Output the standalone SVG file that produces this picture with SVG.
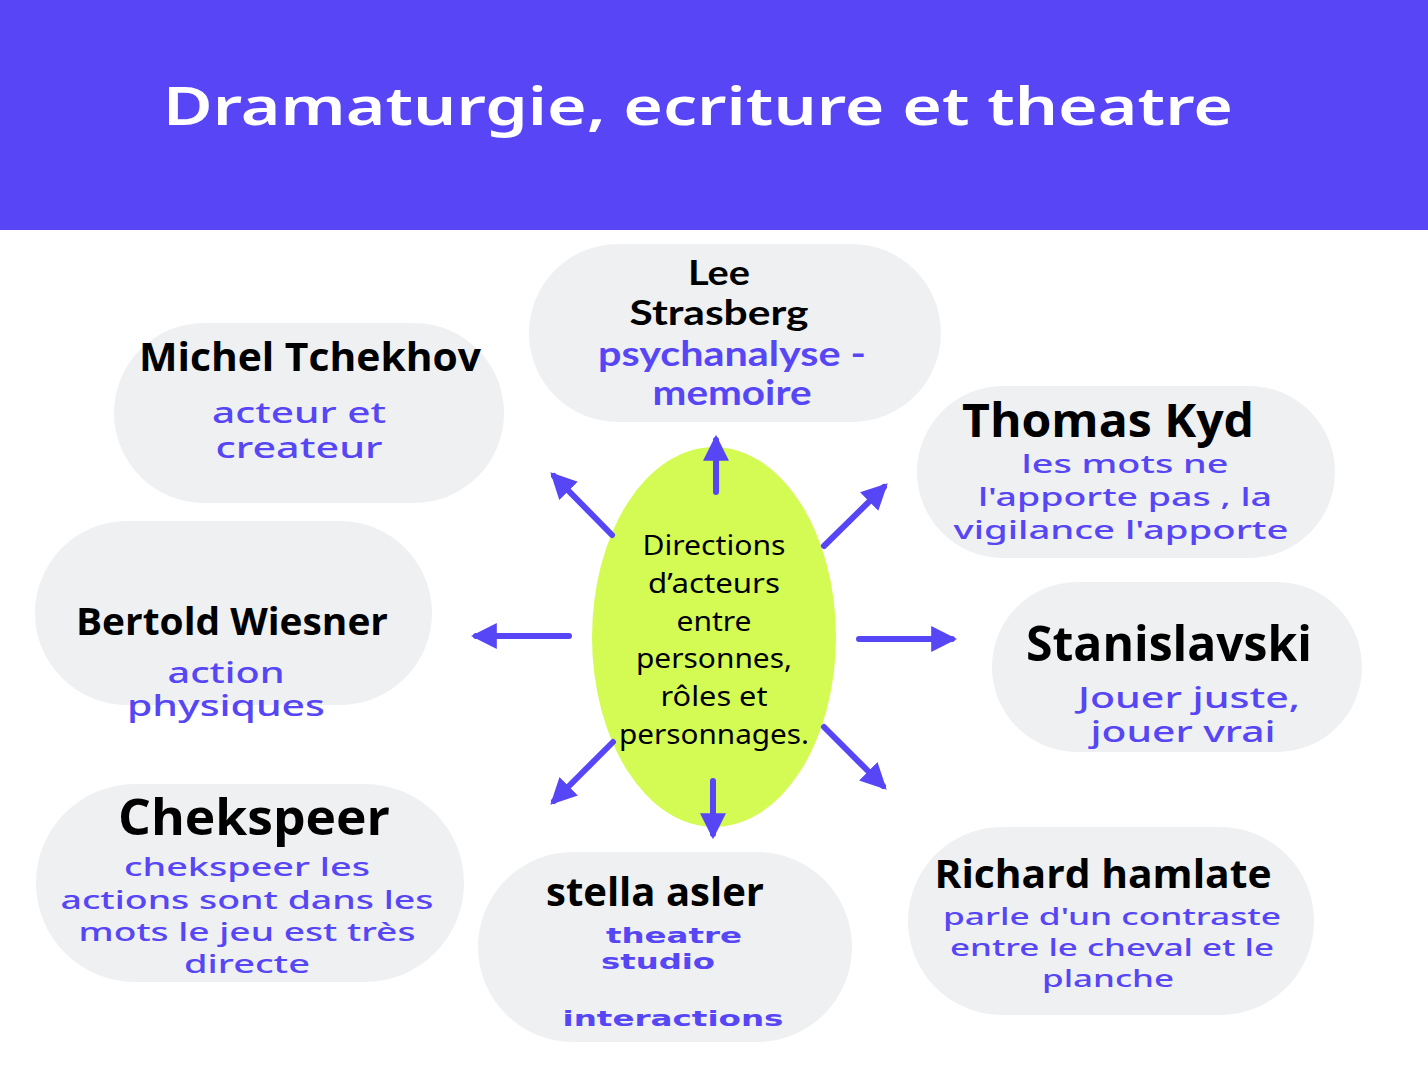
<svg xmlns="http://www.w3.org/2000/svg" width="1428" height="1072" viewBox="0 0 1428 1072">
<style>
.pill{fill:#EFF0F2}
.nm{font-family:"Open Sans","Noto Sans",sans-serif;font-weight:700;fill:#000;text-anchor:middle}
.sub{font-family:"Noto Sans","DejaVu Sans",sans-serif;font-weight:500;fill:#5646F5;text-anchor:middle}
.hv{font-family:"DejaVu Sans","Noto Sans",sans-serif;font-weight:900;fill:#5646F5;text-anchor:middle}
.qs{font-family:"Lato","Noto Sans",sans-serif;font-weight:700;text-anchor:middle}
.ctr{font-family:"Noto Sans","DejaVu Sans",sans-serif;font-weight:400;fill:#000;text-anchor:middle;font-size:28px}
.ar{stroke:#5646F5;stroke-width:6;stroke-linecap:round;fill:none;marker-end:url(#ah)}
</style>
<defs>
<marker id="ah" viewBox="0 0 10 10" refX="8" refY="5" markerWidth="26" markerHeight="26" markerUnits="userSpaceOnUse" orient="auto">
<path d="M0,0 L10,5 L0,10 Z" fill="#5646F5"/>
</marker>
</defs>
<rect width="1428" height="1072" fill="#FFFFFF"/>
<g id="header">
<rect x="0" y="0" width="1428" height="230" fill="#5745F6"/>
<text x="698" y="125" font-family="Noto Sans, DejaVu Sans, sans-serif" font-size="52" font-weight="600" fill="#FFFFFF" text-anchor="middle" textLength="1070" lengthAdjust="spacingAndGlyphs">Dramaturgie, ecriture et theatre</text>
</g>
<g id="center">
<ellipse cx="714" cy="637" rx="122" ry="190" fill="#D4FB54"/>
<text class="ctr" x="714" y="555" textLength="143" lengthAdjust="spacingAndGlyphs">Directions</text>
<text class="ctr" x="714" y="593" textLength="132" lengthAdjust="spacingAndGlyphs">d’acteurs</text>
<text class="ctr" x="714" y="631" textLength="75" lengthAdjust="spacingAndGlyphs">entre</text>
<text class="ctr" x="714" y="668" textLength="156" lengthAdjust="spacingAndGlyphs">personnes,</text>
<text class="ctr" x="714" y="706" textLength="107" lengthAdjust="spacingAndGlyphs">rôles et</text>
<text class="ctr" x="714" y="744" textLength="190" lengthAdjust="spacingAndGlyphs">personnages.</text>
</g>
<g id="lee-strasberg">
<rect class="pill" x="529" y="244" width="412" height="178" rx="89"/>
<text class="qs" x="719" y="285" font-size="34" fill="#000" textLength="62" lengthAdjust="spacingAndGlyphs">Lee</text>
<text class="qs" x="719" y="325" font-size="34" fill="#000" textLength="179" lengthAdjust="spacingAndGlyphs">Strasberg</text>
<text class="qs" x="732" y="366" font-size="34" fill="#5646F5" textLength="268" lengthAdjust="spacingAndGlyphs">psychanalyse -</text>
<text class="qs" x="732" y="405" font-size="34" fill="#5646F5" textLength="159" lengthAdjust="spacingAndGlyphs">memoire</text>
</g>
<g id="michel-tchekhov">
<rect class="pill" x="114" y="323" width="390" height="180" rx="90"/>
<text class="nm" x="310" y="371" font-size="40" textLength="342" lengthAdjust="spacingAndGlyphs">Michel Tchekhov</text>
<text class="sub" x="299" y="423" font-size="28" textLength="174" lengthAdjust="spacingAndGlyphs">acteur et</text>
<text class="sub" x="299" y="458" font-size="28" textLength="167" lengthAdjust="spacingAndGlyphs">createur</text>
</g>
<g id="thomas-kyd">
<rect class="pill" x="917" y="386" width="418" height="172" rx="86"/>
<text class="nm" x="1108" y="437" font-size="46" textLength="292" lengthAdjust="spacingAndGlyphs">Thomas Kyd</text>
<text class="sub" x="1125" y="473" font-size="25" textLength="207" lengthAdjust="spacingAndGlyphs">les mots ne</text>
<text class="sub" x="1125" y="506" font-size="25" textLength="294" lengthAdjust="spacingAndGlyphs">l'apporte pas , la</text>
<text class="sub" x="1121" y="539" font-size="25" textLength="335" lengthAdjust="spacingAndGlyphs">vigilance l'apporte</text>
</g>
<g id="bertold-wiesner">
<rect class="pill" x="35" y="521" width="397" height="184" rx="92"/>
<text class="nm" x="232" y="635" font-size="38" textLength="312" lengthAdjust="spacingAndGlyphs">Bertold Wiesner</text>
<text class="sub" x="226" y="683" font-size="28" textLength="117" lengthAdjust="spacingAndGlyphs">action</text>
<text class="sub" x="226" y="716" font-size="28" textLength="198" lengthAdjust="spacingAndGlyphs">physiques</text>
</g>
<g id="stanislavski">
<rect class="pill" x="992" y="582" width="370" height="170" rx="85"/>
<text class="nm" x="1169" y="661" font-size="48" textLength="286" lengthAdjust="spacingAndGlyphs">Stanislavski</text>
<text class="sub" x="1189" y="708" font-size="28" textLength="222" lengthAdjust="spacingAndGlyphs">Jouer juste,</text>
<text class="sub" x="1183" y="742" font-size="28" textLength="185" lengthAdjust="spacingAndGlyphs">jouer vrai</text>
</g>
<g id="chekspeer">
<rect class="pill" x="36" y="784" width="428" height="198" rx="99"/>
<text class="nm" x="254" y="835" font-size="50" textLength="272" lengthAdjust="spacingAndGlyphs">Chekspeer</text>
<text class="sub" x="247" y="876" font-size="26" textLength="246" lengthAdjust="spacingAndGlyphs">chekspeer les</text>
<text class="sub" x="247" y="909" font-size="26" textLength="373" lengthAdjust="spacingAndGlyphs">actions sont dans les</text>
<text class="sub" x="247" y="941" font-size="26" textLength="337" lengthAdjust="spacingAndGlyphs">mots le jeu est très</text>
<text class="sub" x="247" y="973" font-size="26" textLength="126" lengthAdjust="spacingAndGlyphs">directe</text>
</g>
<g id="stella-asler">
<rect class="pill" x="478" y="852" width="374" height="190" rx="95"/>
<text class="nm" x="655" y="906" font-size="40" font-weight="600" textLength="218" lengthAdjust="spacingAndGlyphs">stella asler</text>
<text class="hv" x="674" y="943" font-size="22" textLength="136" lengthAdjust="spacingAndGlyphs">theatre</text>
<text class="hv" x="658" y="969" font-size="22" textLength="114" lengthAdjust="spacingAndGlyphs">studio</text>
<text class="hv" x="673" y="1026" font-size="22" textLength="221" lengthAdjust="spacingAndGlyphs">interactions</text>
</g>
<g id="richard-hamlate">
<rect class="pill" x="908" y="827" width="406" height="188" rx="94"/>
<text class="nm" x="1103" y="888" font-size="40" textLength="337" lengthAdjust="spacingAndGlyphs">Richard hamlate</text>
<text class="sub" x="1112" y="925" font-size="24" textLength="338" lengthAdjust="spacingAndGlyphs">parle d'un contraste</text>
<text class="sub" x="1112" y="956" font-size="24" textLength="324" lengthAdjust="spacingAndGlyphs">entre le cheval et le</text>
<text class="sub" x="1108" y="987" font-size="24" textLength="132" lengthAdjust="spacingAndGlyphs">planche</text>
</g>
<g id="connectors">
<line class="ar" x1="716" y1="492" x2="716" y2="440"/>
<line class="ar" x1="612" y1="535" x2="554" y2="476"/>
<line class="ar" x1="824" y1="546" x2="884" y2="487"/>
<line class="ar" x1="569" y1="636" x2="476" y2="636"/>
<line class="ar" x1="859" y1="639" x2="952" y2="639"/>
<line class="ar" x1="613" y1="742" x2="554" y2="801"/>
<line class="ar" x1="713" y1="781" x2="713" y2="834"/>
<line class="ar" x1="824" y1="727" x2="883" y2="786"/>
</g>
</svg>
